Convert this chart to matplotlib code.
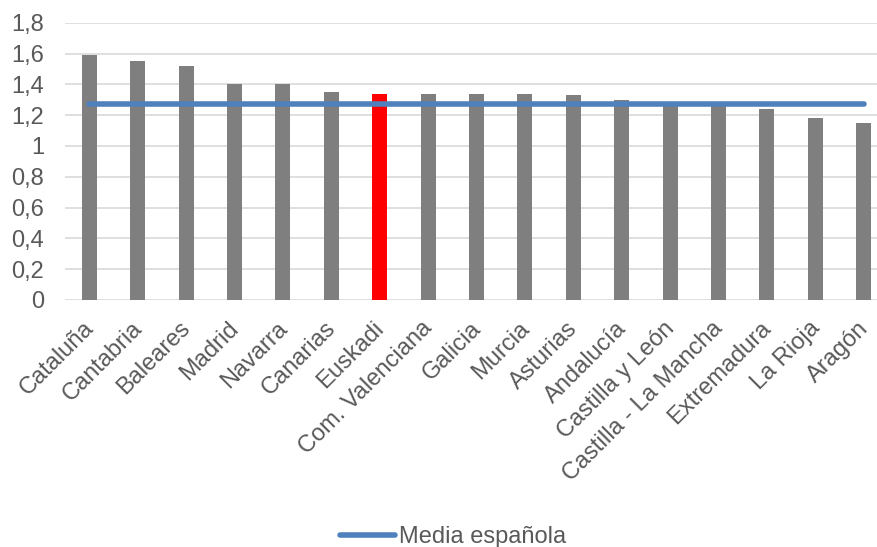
import matplotlib.pyplot as plt
import matplotlib.transforms as mtransforms
import numpy as np

regions = ['Cataluña', 'Cantabria', 'Baleares', 'Madrid', 'Navarra', 'Canarias',
           'Euskadi', 'Com. Valenciana', 'Galicia', 'Murcia', 'Asturias', 'Andalucía',
           'Castilla y León', 'Castilla - La Mancha', 'Extremadura', 'La Rioja', 'Aragón']
values = [1.59, 1.55, 1.52, 1.40, 1.40, 1.35, 1.34, 1.34, 1.34, 1.34, 1.33, 1.30,
          1.28, 1.27, 1.24, 1.18, 1.15]
media = [1.27] * len(regions)
highlight = 'Euskadi'

plt.rcParams['font.family'] = ['Liberation Sans', 'DejaVu Sans']
FS = 17

fig = plt.figure(figsize=(8.77, 5.47), dpi=100)
# plot area runs past the right edge of the picture, as in the original crop
ax = fig.add_axes([65 / 877, 247 / 547, 823 / 877, 277.3 / 547])

x = np.arange(len(regions))
colors = ['#ff0000' if r == highlight else '#7f7f7f' for r in regions]
ax.bar(x, values, width=0.31, color=colors, zorder=2)
ax.plot(x, media, color='#4f81bd', linewidth=4, solid_capstyle='round', zorder=3,
        label='Media española')

ax.set_xlim(-0.5, len(regions) - 0.5)
ax.set_ylim(0, 1.8)
yt = np.arange(0, 1.81, 0.2)
ax.set_yticks(yt)
ax.set_yticklabels(['0' if v == 0 else ('%.1f' % v).replace('.', ',').replace(',0', '') for v in yt])
ax.yaxis.grid(True, color='#d9d9d9', linewidth=1.2, zorder=0)
ax.set_axisbelow(True)
for s in ax.spines.values():
    s.set_visible(False)
ax.tick_params(axis='both', length=0, labelsize=FS, colors='#595959')
ax.tick_params(axis='y', pad=15)

ax.set_xticks(x)
ax.set_xticklabels(regions, rotation=45, ha='right', va='center', rotation_mode='anchor')
ax.tick_params(axis='x', pad=18)
shift = mtransforms.ScaledTranslation(1 / 100, 0, fig.dpi_scale_trans)
for lbl in ax.get_xticklabels():
    lbl.set_transform(lbl.get_transform() + shift)

fig.legend(loc='center', bbox_to_anchor=(453 / 877, 1 - 537 / 547), frameon=False,
           fontsize=FS, handlelength=2.35, handletextpad=0.15, labelcolor='#595959')

fig.savefig('out.png', dpi=100)
